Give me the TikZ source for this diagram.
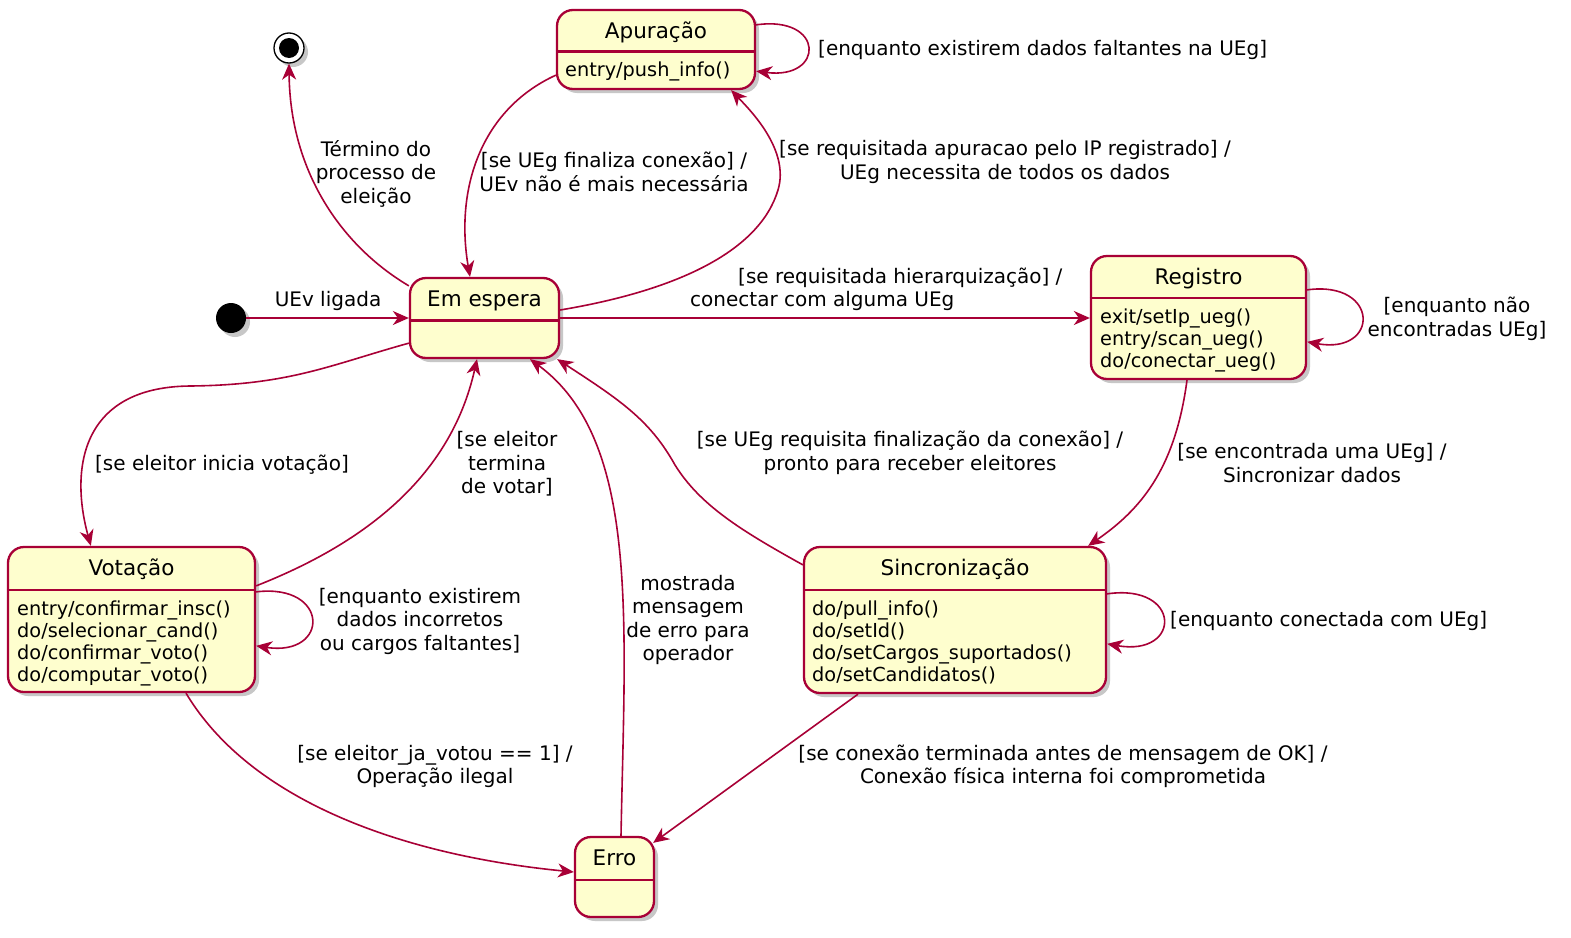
\documentclass[tikz,border=0pt]{standalone}
\usepackage{fontspec}
\setmainfont{DejaVu Sans}
\usetikzlibrary{arrows.meta,shadows,calc}
\definecolor{pred}{HTML}{A80036}
\definecolor{pfill}{HTML}{FEFECE}
\newcommand{\mycl}[1]{\begin{tabular}[t]{@{}c@{}}#1\end{tabular}}
\newcommand{\mylft}[1]{\begin{tabular}[t]{@{}l@{}}#1\end{tabular}}
\tikzset{
  stbox/.style={draw=pred, line width=2.3pt, fill=pfill, rounded corners=16pt, inner sep=0pt,
    drop shadow={shadow xshift=4pt, shadow yshift=-4pt, opacity=0.4, fill=black!55}},
  ttl/.style={anchor=base, inner sep=0pt, font=\fontsize{21.5}{26}\selectfont},
  bdy/.style={anchor=base west, inner sep=0pt, font=\fontsize{19.3}{22}\selectfont},
  lab/.style={anchor=base, inner sep=0pt, font=\fontsize{20}{23.5}\selectfont},
  sepl/.style={draw=pred, line width=2.3pt},
  tr/.style={draw=pred, line width=1.6pt, -{Stealth[length=16pt,width=14pt,inset=5pt]}},
}
\begin{document}
\begin{tikzpicture}[x=1pt,y=-1pt]
\fill[white] (0,0) rectangle (1571,937);
\useasboundingbox (0,0) rectangle (1571,937);

% states
\node[stbox, minimum width=198pt, minimum height=79pt] (ap) at (656,49.5) {};
\draw[sepl] (ap.west |- 0,51.5) -- (ap.east |- 0,51.5);
\node[ttl] (apt) at (656,38.5) {Apuração};
\node[bdy] (apb) at (565,76.5) {\mylft{entry/push\_info()}};

\node[stbox, minimum width=149pt, minimum height=80pt] (em) at (484.5,318) {};
\draw[sepl] (em.west |- 0,320.5) -- (em.east |- 0,320.5);
\node[ttl] (emt) at (484.5,306.5) {Em espera};

\node[stbox, minimum width=215pt, minimum height=123pt] (reg) at (1198.5,317.5) {};
\draw[sepl] (reg.west |- 0,298) -- (reg.east |- 0,298);
\node[ttl] (regt) at (1198.5,284.5) {Registro};
\node[bdy] (regb) at (1100,323.5) {\mylft{exit/setIp\_ueg()\\entry/scan\_ueg()\\do/conectar\_ueg()}};

\node[stbox, minimum width=247pt, minimum height=145pt] (vot) at (131.5,619.5) {};
\draw[sepl] (vot.west |- 0,590) -- (vot.east |- 0,590);
\node[ttl] (vott) at (131.5,575.5) {Votação};
\node[bdy] (votb) at (17,615.5) {\mylft{entry/confirmar\_insc()\\do/selecionar\_cand()\\do/confirmar\_voto()\\do/computar\_voto()}};

\node[stbox, minimum width=302pt, minimum height=146pt] (sinc) at (955,620) {};
\draw[sepl] (sinc.west |- 0,590) -- (sinc.east |- 0,590);
\node[ttl] (sinct) at (955,575.5) {Sincronização};
\node[bdy] (sincb) at (812,615.5) {\mylft{do/pull\_info()\\do/setId()\\do/setCargos\_suportados()\\do/setCandidatos()}};

\node[stbox, minimum width=79pt, minimum height=80pt] (erro) at (614.5,877) {};
\draw[sepl] (erro.west |- 0,880) -- (erro.east |- 0,880);
\node[ttl] (errot) at (614.5,865.5) {Erro};

% initial and final
\node[circle, fill=black, minimum size=30pt, inner sep=0pt,
  drop shadow={shadow xshift=4pt, shadow yshift=-4pt, opacity=0.4, fill=black!55}] (init) at (231,318) {};
\node[circle, draw=black, line width=1.3pt, fill=white, minimum size=30pt, inner sep=0pt,
  drop shadow={shadow xshift=4pt, shadow yshift=-4pt, opacity=0.4, fill=black!55}] (fin) at (289,48) {};
\node[circle, fill=black, minimum size=20pt, inner sep=0pt] (finin) at (fin) {};

% transitions
\draw[tr] (init) -- (em.west);
\draw[tr] ([yshift=-9pt]em.north west) .. controls (340,245) and (290,170) .. (fin.south);
\draw[tr] ([yshift=15pt]ap.south west) .. controls (480,110) and (455,190) .. ([xshift=-14.5pt]em.north);
\draw[tr] ([yshift=8pt]em.east) .. controls (680,290) and (760,250) .. (778,190)
   .. controls (790,150) and (750,110) .. ([xshift=-25pt]ap.south east);
\draw[tr] ([yshift=-16pt]ap.north east) .. controls (825,15) and (825,80) .. ([yshift=19pt]ap.south east);
\draw[tr] (em.east) -- (em.east -| reg.west);
\draw[tr] ([yshift=-35pt]reg.north east) .. controls (1380,280) and (1380,355) .. ([yshift=-87pt]reg.north east);
\draw[tr] ([yshift=16pt]em.south west) .. controls (330,365) and (290,385) .. (190,386)
   .. controls (80,387) and (70,470) .. ([xshift=84pt]vot.north west);
\draw[tr] ([yshift=-40pt]vot.north east) .. controls (360,545) and (450,480) .. ([xshift=-7.5pt]em.south);
\draw[tr] ([yshift=-46pt]vot.north east) .. controls (330,583) and (330,657) .. ([yshift=-100pt]vot.north east);
\draw[tr] ([xshift=54.5pt]vot.south) .. controls (250,800) and (400,855) .. ([yshift=5pt]erro.west);
\draw[tr] ([xshift=6.5pt]erro.north) .. controls (625,620) and (640,440) .. ([xshift=45.5pt]em.south);
\draw[tr] ([yshift=-19pt]sinc.north west) .. controls (740,530) and (700,505) .. (675,465)
   .. controls (650,420) and (620,400) .. ([xshift=-3pt]em.south east);
\draw[tr] ([xshift=-11.5pt]reg.south) .. controls (1175,470) and (1140,510) .. ([xshift=-19pt]sinc.north east);
\draw[tr] ([yshift=-48pt]sinc.north east) .. controls (1182,583) and (1182,657) .. ([yshift=-98pt]sinc.north east);
\draw[tr] ([xshift=-97pt]sinc.south) -- ([xshift=-2pt,yshift=-7pt]erro.north east);

% labels
\node[lab] (l1) at (328,306.7) {UEv ligada};
\node[lab] (l2) at (376,156) {\mycl{Término do\\processo de\\eleição}};
\node[lab] (l3) at (614,167.7) {\mycl{[se UEg finaliza conexão] /\\UEv não é mais necessária}};
\node[lab] (l4) at (1005,155.5) {\mycl{[se requisitada apuracao pelo IP registrado] /\\UEg necessita de todos os dados}};
\node[lab, anchor=base west] (l5) at (818,55.5) {[enquanto existirem dados faltantes na UEg]};
\node[lab, anchor=base west] (l6) at (690,283) {\mylft{\hspace*{48pt}[se requisitada hierarquização] /\\conectar com alguma UEg}};
\node[lab] (l7) at (1457,312.7) {\mycl{[enquanto não\\encontradas UEg]}};
\node[lab] (l8) at (222,470) {[se eleitor inicia votação]};
\node[lab] (l9) at (507,446.7) {\mycl{[se eleitor\\termina\\de votar]}};
\node[lab] (l10) at (910,446.7) {\mycl{[se UEg requisita finalização da conexão] /\\pronto para receber eleitores}};
\node[lab] (l11) at (1312,458.5) {\mycl{[se encontrada uma UEg] /\\Sincronizar dados}};
\node[lab] (l12) at (420,603) {\mycl{[enquanto existirem\\dados incorretos\\ou cargos faltantes]}};
\node[lab] (l13) at (688,590) {\mycl{mostrada\\mensagem\\de erro para\\operador}};
\node[lab, anchor=base west] (l14) at (1170,626.5) {[enquanto conectada com UEg]};
\node[lab] (l15) at (435,760) {\mycl{[se eleitor\_ja\_votou == 1] /\\Operação ilegal}};
\node[lab] (l16) at (1063,760) {\mycl{[se conexão terminada antes de mensagem de OK] /\\Conexão física interna foi comprometida}};
\end{tikzpicture}
\end{document}
